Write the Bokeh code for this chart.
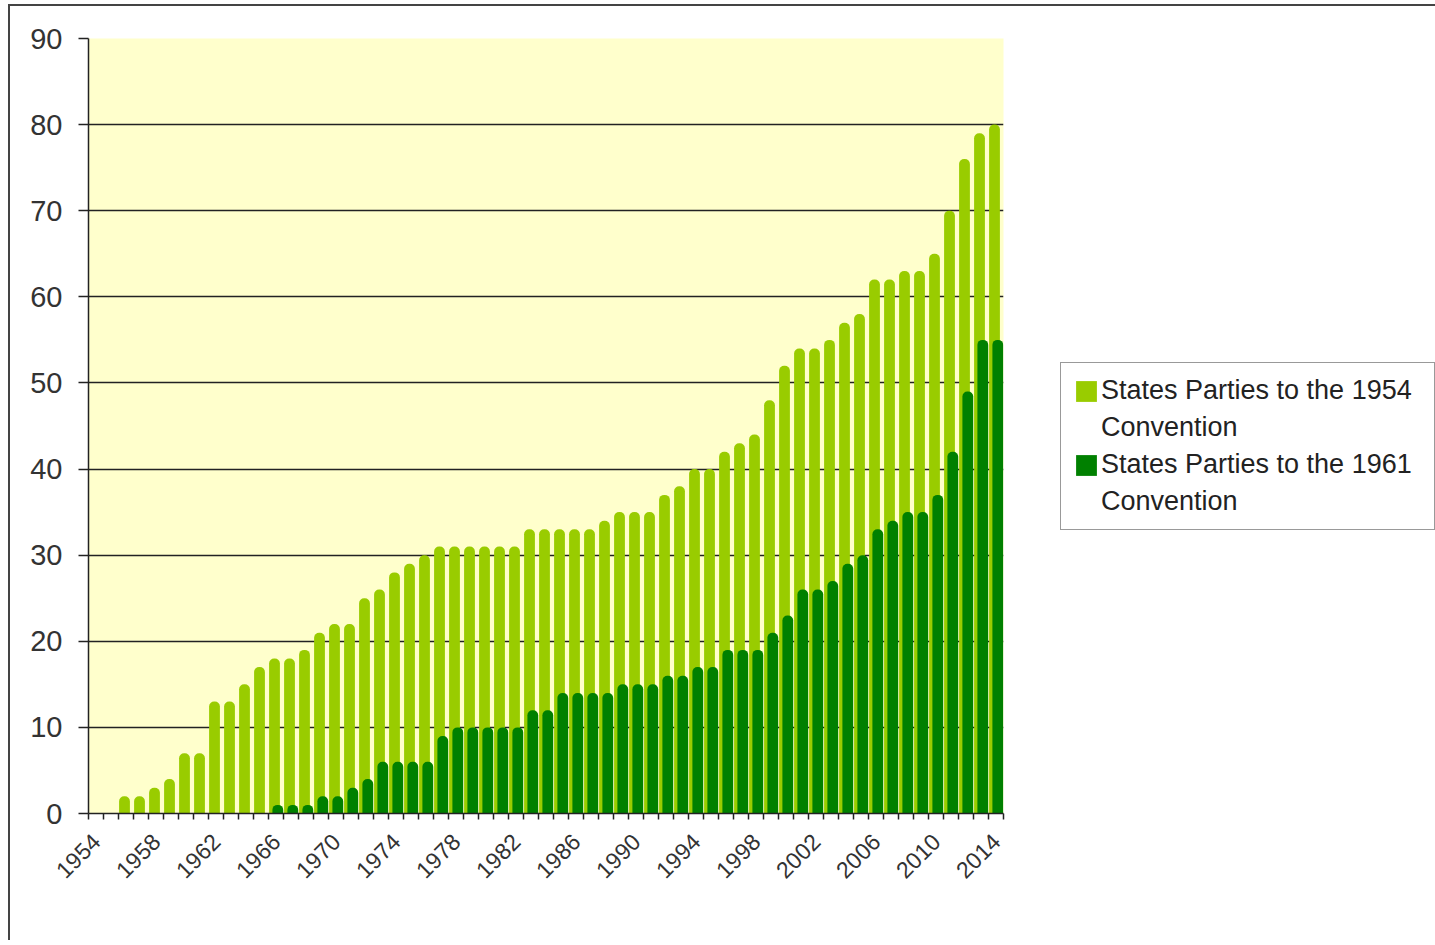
import math
from bokeh.plotting import figure
from bokeh.layouts import row
from bokeh.models import ColumnDataSource, Range1d, FixedTicker, Legend, LegendItem
from bokeh.transform import dodge
from bokeh.embed import file_html
from bokeh.resources import INLINE

# ---------------- data ----------------
years = list(range(1954, 2015))
parties_1954 = [0, 0, 2, 2, 3, 4, 7, 7, 13, 13,
                15, 17, 18, 18, 19, 21, 22, 22, 25, 26,
                28, 29, 30, 31, 31, 31, 31, 31, 31, 33,
                33, 33, 33, 33, 34, 35, 35, 35, 37, 38,
                40, 40, 42, 43, 44, 48, 52, 54, 54, 55,
                57, 58, 62, 62, 63, 63, 65, 70, 76, 79,
                80]
parties_1961 = [0, 0, 0, 0, 0, 0, 0, 0, 0, 0,
                0, 0, 1, 1, 1, 2, 2, 3, 4, 6,
                6, 6, 6, 9, 10, 10, 10, 10, 10, 12,
                12, 14, 14, 14, 14, 15, 15, 15, 16, 16,
                17, 17, 19, 19, 19, 21, 23, 26, 26, 27,
                29, 30, 33, 34, 35, 35, 37, 42, 49, 55,
                55]
tick_years = list(range(1954, 2015, 4))
y_ticks = list(range(0, 91, 10))
series_label_lines = [["States Parties to the 1954", "Convention"],
                      ["States Parties to the 1961", "Convention"]]

LIGHT = "#99CC00"
DARK = "#008000"
FONT = "Liberation Sans"
TEXT = "#333333"
LINE = "#222222"


def make_source(vals):
    xs = [y for y, v in zip(years, vals) if v > 0]
    ts = [v for v in vals if v > 0]
    return ColumnDataSource(dict(x=xs, top=ts))


src1954 = make_source(parties_1954)
src1961 = make_source(parties_1961)

# ---------------- main chart ----------------
p = figure(width=995, height=934, output_backend="svg", toolbar_location=None,
           x_range=Range1d(1953.5, 2014.5), y_range=Range1d(0, 90),
           min_border_left=78, min_border_right=2,
           min_border_top=32, min_border_bottom=127,
           background_fill_color="#FFFFCC", border_fill_color="white",
           outline_line_color=None)

r1 = p.vbar(x=dodge("x", -0.1), top="top", width=0.72, source=src1954,
            fill_color=LIGHT, line_color=None, border_radius=(5, 5, 0, 0))
r2 = p.vbar(x=dodge("x", 0.12), top="top", width=0.72, source=src1961,
            fill_color=DARK, line_color=None, border_radius=(5, 5, 0, 0))

xa = p.xaxis[0]
xa.ticker = FixedTicker(ticks=tick_years,
                        minor_ticks=[y - 0.5 for y in years] + [years[-1] + 0.5])
xa.major_tick_out = 0
xa.major_tick_in = 0
xa.minor_tick_out = 6
xa.minor_tick_in = 0
xa.minor_tick_line_color = LINE
xa.minor_tick_line_width = 1.5
xa.axis_line_color = LINE
xa.axis_line_width = 1.5
xa.major_label_orientation = math.pi / 4
xa.major_label_text_font = FONT
xa.major_label_text_font_size = "23px"
xa.major_label_text_color = TEXT
xa.major_label_standoff = 18

ya = p.yaxis[0]
ya.ticker = FixedTicker(ticks=y_ticks)
ya.major_tick_out = 10
ya.major_tick_in = 0
ya.major_tick_line_color = LINE
ya.major_tick_line_width = 1.5
ya.minor_tick_out = 0
ya.minor_tick_in = 0
ya.axis_line_color = LINE
ya.axis_line_width = 1.5
ya.major_label_text_font = FONT
ya.major_label_text_font_size = "29px"
ya.major_label_text_color = TEXT
ya.major_label_standoff = 16

p.xgrid.visible = False
p.ygrid.ticker = FixedTicker(ticks=[t for t in y_ticks if 0 < t < 90])
p.ygrid.grid_line_color = LINE
p.ygrid.grid_line_width = 1.6

# ---------------- legend panel ----------------
p2 = figure(width=430, height=934, output_backend="svg", toolbar_location=None,
            x_range=Range1d(0, 1), y_range=Range1d(0, 1),
            x_axis_type=None, y_axis_type=None,
            min_border_left=0, min_border_right=0, min_border_top=0, min_border_bottom=0,
            background_fill_color="white", border_fill_color="white",
            outline_line_color=None)
for g in p2.grid:
    g.visible = False

# zero-height key glyphs (only used for the legend swatches)
key_src = ColumnDataSource(dict(x=[0.5], top=[0], bottom=[0]))
k1 = p2.vbar(x="x", top="top", bottom="bottom", width=0.5, source=key_src,
             fill_color=LIGHT, line_color=None)
k2 = p2.vbar(x="x", top="top", bottom="bottom", width=0.5, source=key_src,
             fill_color=DARK, line_color=None)
blank = p2.vbar(x="x", top="top", bottom="bottom", width=0.5, source=key_src,
                fill_alpha=0, line_alpha=0)

legend = Legend(items=[LegendItem(label=series_label_lines[0][0], renderers=[k1]),
                       LegendItem(label=series_label_lines[0][1], renderers=[blank]),
                       LegendItem(label=series_label_lines[1][0], renderers=[k2]),
                       LegendItem(label=series_label_lines[1][1], renderers=[blank])],
                location=(55, 283),
                label_text_font=FONT, label_text_font_size="27px",
                label_text_color="#222222",
                glyph_width=26, glyph_height=26, label_standoff=2,
                label_width=321,
                padding=12, spacing=6, margin=0,
                border_line_color="#333333", border_line_width=1.5,
                background_fill_color="white", background_fill_alpha=1.0)
p2.add_layout(legend)

layout = row(p, p2)
layout.styles = {"margin-left": "8px", "margin-top": "4px",
                 "border-left": "2px solid #444444", "border-top": "2px solid #444444"}

open("out.html", "w").write(file_html(layout, INLINE))
